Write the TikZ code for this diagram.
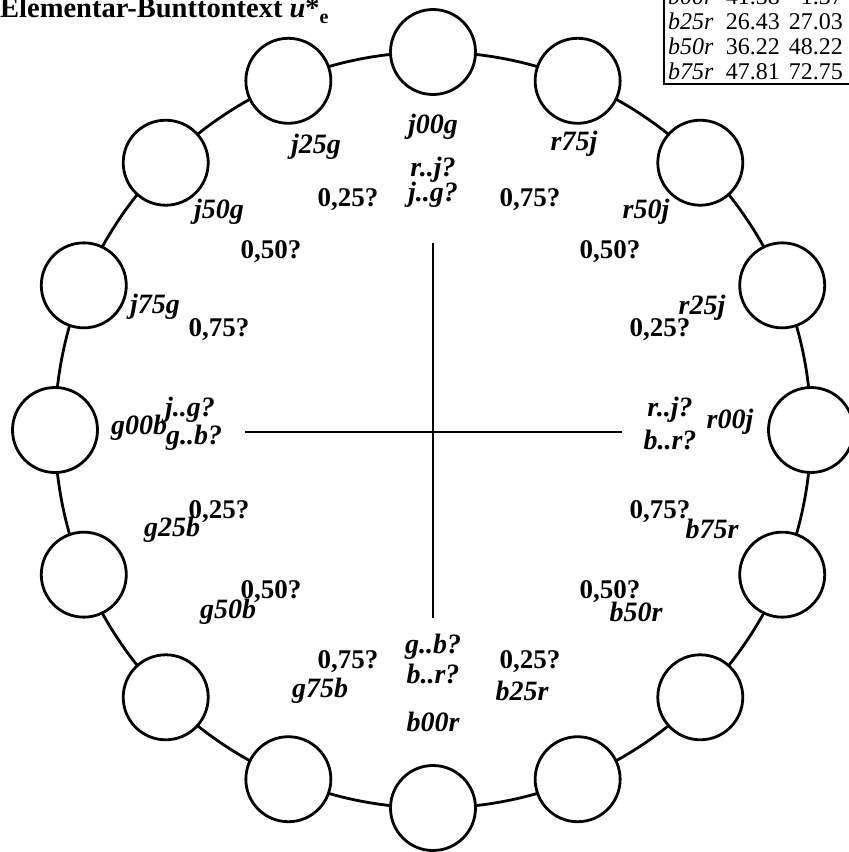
\documentclass[tikz,border=0pt]{standalone}
\usepackage{fontspec}
\setmainfont{Liberation Serif}
\begin{document}
\begin{tikzpicture}[x=1pt,y=-1pt,
  ring/.style={line width=2.8pt},
  dot/.style={circle,draw,line width=2.8pt,fill=white,minimum size=85pt,inner sep=0pt},
  cross/.style={line width=2.7pt},
  lab/.style={inner sep=0pt,font=\fontsize{28}{30}\selectfont\bfseries\itshape},
  num/.style={inner sep=0pt,font=\fontsize{27}{29}\selectfont\bfseries},
  ttl/.style={inner sep=0pt,font=\fontsize{28.5}{30}\selectfont\bfseries},
  tab/.style={inner sep=0pt,font=\fontsize{24}{26}\selectfont}]
\useasboundingbox (0,0) rectangle (849,852);
\coordinate (O) at (433,430);
\draw[ring] (O) circle (378pt);
\foreach \k in {0,...,15}{
  \pgfmathsetmacro{\a}{90-22.5*\k}
  \node[dot] (c\k) at ({433+378*cos(\a)},{430-378*sin(\a)}) {};
}
% cross
\coordinate (vt) at (433,243);
\coordinate (vb) at (433,618);
\coordinate (hl) at (245,432);
\coordinate (hr) at (622,432);
\draw[cross] (vt) -- (vb);
\draw[cross] (hl) -- (hr);
% circle labels
\node[lab] (l0) at (433,127) {j00g};
\node[lab] (l1) at (574,144) {r75j};
\node[lab] (l2) at (646,212) {r50j};
\node[lab] (l3) at (702,308) {r25j};
\node[lab] (l4) at (730,422) {r00j};
\node[lab] (l5) at (712,529) {b75r};
\node[lab] (l6) at (636,612) {b50r};
\node[lab] (l7) at (522,691) {b25r};
\node[lab] (l8) at (433,722) {b00r};
\node[lab] (l9) at (320,691) {g75b};
\node[lab] (l10) at (228,612) {g50b};
\node[lab] (l11) at (172,530) {g25b};
\node[lab] (l12) at (139,428) {g00b};
\node[lab] (l13) at (155,307) {j75g};
\node[lab] (l14) at (219,212) {j50g};
\node[lab] (l15) at (316,147) {j25g};
% axis-end labels
\node[lab] (t1) at (433,170) {r..j?};
\node[lab] (t2) at (433,195) {j..g?};
\node[lab] (w1) at (190,410) {j..g?};
\node[lab] (w2) at (194,438) {g..b?};
\node[lab] (e1) at (670,410) {r..j?};
\node[lab] (e2) at (670,440) {b..r?};
\node[lab] (s1) at (433,647) {g..b?};
\node[lab] (s2) at (433,674) {b..r?};
% fractions
\node[num] (n1) at (348,200) {0,25?};
\node[num] (n2) at (271,252) {0,50?};
\node[num] (n3) at (219,330) {0,75?};
\node[num] (n4) at (530,200) {0,75?};
\node[num] (n5) at (610,252) {0,50?};
\node[num] (n6) at (660,330) {0,25?};
\node[num] (n7) at (219,512) {0,25?};
\node[num] (n8) at (271,592) {0,50?};
\node[num] (n9) at (348,662) {0,75?};
\node[num] (n10) at (660,512) {0,75?};
\node[num] (n11) at (610,592) {0,50?};
\node[num] (n12) at (530,662) {0,25?};
% title
\node[ttl,anchor=base west] (title) at (0,17) {Elementar-Bunttontext \textit{u}*\raisebox{-0.22em}{\fontsize{20}{20}\selectfont e}};
% table
\coordinate (tbA) at (664,-10);
\coordinate (tbB) at (858,84);
\draw[line width=1.2pt] (tbA) rectangle (tbB);
\foreach \n/\p/\q [count=\i from 0] in {b00r/41.38/1.37,b25r/26.43/27.03,b50r/36.22/48.22,b75r/47.81/72.75}{
  \node[tab,anchor=base west] (ta\i) at (668,{4+25*\i}) {\textit{\n}};
  \node[tab,anchor=base east] (tb\i) at (780,{4+25*\i}) {\p};
  \node[tab,anchor=base east] (tc\i) at (843,{4+25*\i}) {\q};
}
\end{tikzpicture}
\end{document}
